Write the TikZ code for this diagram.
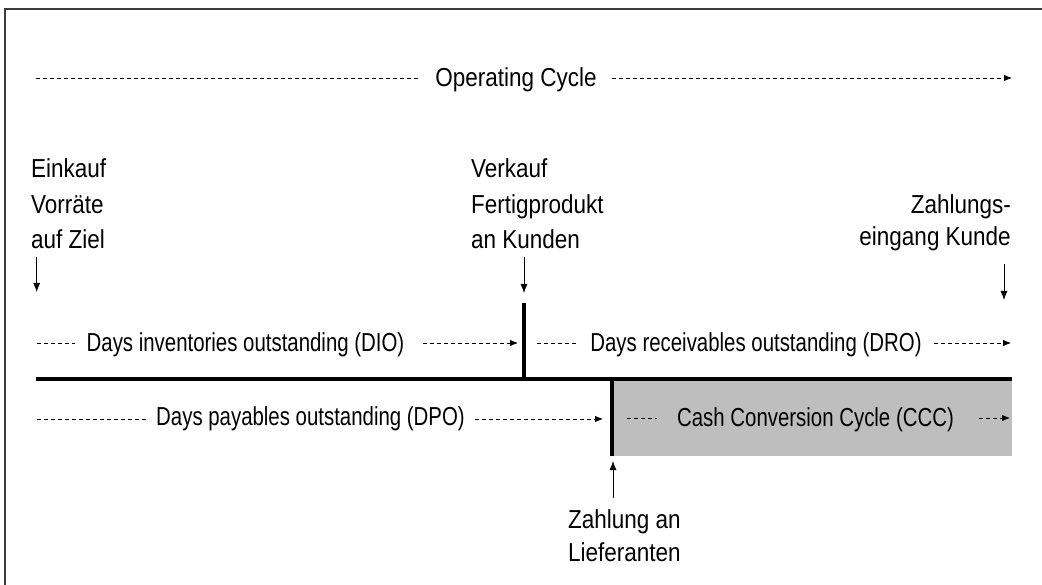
\documentclass[tikz,border=0pt]{standalone}
\usepackage{fontspec}
\setmainfont{Liberation Sans}[FakeStretch=0.865]
\newfontfamily\narrowfont{Liberation Sans}[FakeStretch=0.785]
\usetikzlibrary{arrows.meta}
\definecolor{cccgray}{RGB}{190,190,190}
\definecolor{framegray}{RGB}{60,60,60}
\begin{document}
\begin{tikzpicture}[x=1pt,y=-1pt,
  lbl/.style={inner sep=0pt, anchor=base west, font=\fontsize{26}{30}\selectfont},
  lblr/.style={inner sep=0pt, anchor=base east, font=\fontsize{26}{30}\selectfont},
  per/.style={inner sep=0pt, anchor=base, font=\narrowfont\fontsize{26}{30}\selectfont},
  dsh/.style={dash pattern=on 4pt off 3pt, line width=0.8pt},
  darr/.style={dsh, -{Latex[length=8pt,width=6.5pt]}},
  bar/.style={line width=4.5pt},
  ptr/.style={line width=0.8pt, -{Latex[length=9pt,width=7pt]}}
]
\useasboundingbox (0,0) rectangle (1042,585);
\clip (0,0) rectangle (1042,585);
% frame
\draw[line width=1.8pt, draw=framegray] (5,9) rectangle (1070,620);

% gray CCC area
\fill[cccgray] (612,379) rectangle (1012,456);

% timeline and bars
\coordinate (tlL) at (36,379);
\coordinate (tlR) at (1012,379);
\coordinate (sellTop) at (524,303);
\coordinate (sellBot) at (524,379);
\coordinate (payTop) at (612,379);
\coordinate (payBot) at (612,456);
\draw[bar] (tlL) -- (tlR);
\draw[bar] (sellTop) -- (sellBot);
\draw[bar] (payTop) -- (payBot);

% Operating cycle
\node[per, font=\fontsize{26}{30}\selectfont] (op) at (516,86.5) {Operating Cycle};
\coordinate (opL) at (36,78);
\coordinate (opR) at (1012,78);
\draw[dsh] (opL) -- ([xshift=-17pt]op.west |- opL);
\draw[darr] ([xshift=15pt]op.east |- opR) -- (opR);

% DIO
\node[per] (dio) at (245.5,352) {Days inventories outstanding (DIO)};
\coordinate (dioL) at (37,343);
\coordinate (dioR) at (518,343);
\draw[dsh] (dioL) -- ([xshift=-11pt]dio.west |- dioL);
\draw[darr] ([xshift=18pt]dio.east |- dioR) -- (dioR);

% DRO
\node[per] (dro) at (756,352) {Days receivables outstanding (DRO)};
\coordinate (droL) at (537,343);
\coordinate (droR) at (1011,343);
\draw[dsh] (droL) -- ([xshift=-12pt]dro.west |- droL);
\draw[darr] ([xshift=12pt]dro.east |- droR) -- (droR);

% DPO
\node[per] (dpo) at (310.5,425) {Days payables outstanding (DPO)};
\coordinate (dpoL) at (37,419);
\coordinate (dpoR) at (603,419);
\draw[dsh] (dpoL) -- ([xshift=-10pt]dpo.west |- dpoL);
\draw[darr] ([xshift=10pt]dpo.east |- dpoR) -- (dpoR);

% CCC
\node[per] (ccc) at (815.5,426) {Cash Conversion Cycle (CCC)};
\coordinate (cccL) at (627,418);
\coordinate (cccR) at (1010,418);
\draw[dsh] (cccL) -- ([xshift=-20pt]ccc.west |- cccL);
\draw[darr] ([xshift=25pt]ccc.east |- cccR) -- (cccR);

% Einkauf
\node[lbl] (ek1) at (31,178) {Einkauf};
\node[lbl] (ek2) at (31,213.5) {Vorräte};
\node[lbl] (ek3) at (31,249) {auf Ziel};
\coordinate (ekA) at (36.7,257);
\coordinate (ekB) at (36.7,292);
\draw[ptr] (ekA) -- (ekB);

% Verkauf
\node[lbl] (vk1) at (471,178) {Verkauf};
\node[lbl] (vk2) at (471,213.5) {Fertigprodukt};
\node[lbl] (vk3) at (471,249) {an Kunden};
\coordinate (vkA) at (524,257);
\coordinate (vkB) at (524,293);
\draw[ptr] (vkA) -- (vkB);

% Zahlungseingang
\node[lblr] (ze1) at (1011,214) {Zahlungs-};
\node[lblr] (ze2) at (1011,246) {eingang Kunde};
\coordinate (zeA) at (1004,264);
\coordinate (zeB) at (1004,300);
\draw[ptr] (zeA) -- (zeB);

% Zahlung an Lieferanten
\node[lbl] (zl1) at (568,528) {Zahlung an};
\node[lbl] (zl2) at (568,561) {Lieferanten};
\coordinate (zlA) at (613,498);
\coordinate (zlB) at (613,461);
\draw[ptr] (zlA) -- (zlB);
\end{tikzpicture}
\end{document}
